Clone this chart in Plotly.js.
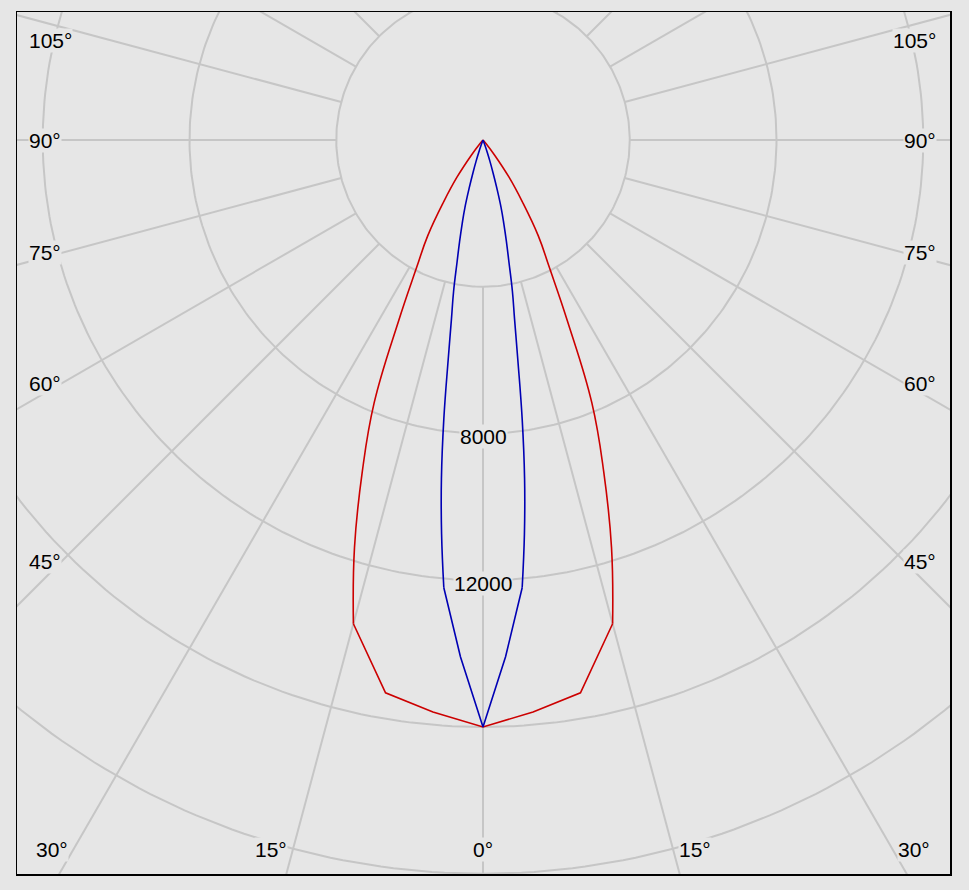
<!DOCTYPE html>
<html>
<head>
<meta charset="utf-8">
<script src="https://cdn.plot.ly/plotly-3.0.1.min.js"></script>
<style>html,body{margin:0;padding:0;background:#e6e6e6;}#chart{width:969px;height:890px;}</style>
</head>
<body>
<div id="chart"></div>
<script>
// Polar angles (degrees from nadir) and luminous intensities (cd)
const redAngles  = [0, 5, 10, 15, 17.5, 20, 22.5, 25, 27.5, 30, 32.5, 35, 37.5, 40, 42.5, 45, 60, 75, 90];
const redValues  = [16000, 15650, 15300, 13650, 11650, 9620, 7750, 5450, 3920, 3010, 1990, 1230, 530, 150, 0, 0, 0, 0, 0];
const blueAngles = [0, 2.5, 5, 6, 7, 8, 9, 10, 11, 12, 13, 14, 15, 16, 17, 18, 19, 20, 22.5, 25, 90];
const blueValues = [16000, 14100, 12250, 10800, 9300, 7670, 6070, 4950, 4200, 3400, 2830, 2340, 1900, 1380, 940, 620, 360, 160, 0, 0, 0];
const radialTicks = [4000, 8000, 12000, 16000, 20000, 24000];
const radialLabels = ['8000', '12000'];
const angleTicks = [-105, -90, -75, -60, -45, -30, -15, 0, 15, 30, 45, 60, 75, 90, 105];
const angleLabels = angleTicks.map(a => Math.abs(a) + '°');
// angle from which each curve is drawn smooth (below it: straight segments)
const redSmoothFrom = 15, blueSmoothFrom = 5;

// layout geometry
const W = 969, H = 890;
const M = {l: 17, r: 19, t: 12, b: 16};
const K = 16000 / 587;            // cd per pixel
const cx = 483 - M.l, cy = 140 - M.t;   // centre within plot area (px)
const pw = W - M.l - M.r, ph = H - M.t - M.b;
const xr = [-cx * K, (pw - cx) * K];
const yr = [-(ph - cy) * K, cy * K];

const rad = d => d * Math.PI / 180;
const px = (a, v, sgn) => sgn * v * Math.sin(rad(a));
const py = (a, v) => -v * Math.cos(rad(a));

function curveTraces(angles, vals, smoothFrom, color, name) {
  const out = [];
  // central straight part, mirrored
  const cxs = [], cys = [];
  for (let i = angles.length - 1; i >= 0; i--) if (angles[i] <= smoothFrom) { cxs.push(px(angles[i], vals[i], -1)); cys.push(py(angles[i], vals[i])); }
  for (let i = 1; i < angles.length; i++) if (angles[i] <= smoothFrom) { cxs.push(px(angles[i], vals[i], 1)); cys.push(py(angles[i], vals[i])); }
  out.push({x: cxs, y: cys, mode: 'lines', line: {color: color, width: 1.6}, name: name, showlegend: false});
  // smooth flanks
  [-1, 1].forEach(sgn => {
    const xs = [], ys = [];
    for (let i = 0; i < angles.length; i++) if (angles[i] >= smoothFrom) { xs.push(px(angles[i], vals[i], sgn)); ys.push(py(angles[i], vals[i])); }
    out.push({x: xs, y: ys, mode: 'lines', line: {color: color, width: 1.6, shape: 'spline', smoothing: 1.2}, name: name, showlegend: false});
  });
  return out;
}

const gridColor = '#c6c6c6';
const traces = [];
// circles
{
  const xs = [], ys = [];
  radialTicks.forEach(r => {
    for (let a = 0; a <= 360; a += 1) { xs.push(r * Math.sin(rad(a))); ys.push(-r * Math.cos(rad(a))); }
    xs.push(null); ys.push(null);
  });
  traces.push({x: xs, y: ys, mode: 'lines', line: {color: gridColor, width: 2}, hoverinfo: 'skip', showlegend: false});
}
// spokes
{
  const xs = [], ys = [], r0 = radialTicks[0], r1 = 60000;
  for (let a = -180; a < 180; a += 15) {
    xs.push(r0 * Math.sin(rad(a)), r1 * Math.sin(rad(a)), null);
    ys.push(-r0 * Math.cos(rad(a)), -r1 * Math.cos(rad(a)), null);
  }
  traces.push({x: xs, y: ys, mode: 'lines', line: {color: gridColor, width: 2}, hoverinfo: 'skip', showlegend: false});
}
curveTraces(redAngles, redValues, redSmoothFrom, '#cc0000', 'C0-C180').forEach(t => traces.push(t));
curveTraces(blueAngles, blueValues, blueSmoothFrom, '#0000b4', 'C90-C270').forEach(t => traces.push(t));

// annotations
const font = {family: 'Liberation Sans, Arial, sans-serif', size: 21, color: '#000'};
const bg = '#e6e6e6';
const ann = [];
angleTicks.forEach((a, i) => {
  const s = Math.sin(rad(a)), c = Math.cos(rad(a));
  if (Math.abs(a) >= 45) {
    const left = a < 0;
    const xi = left ? xr[0] + 45 * K : xr[1] - 46 * K;   // inner edge of label
    let y = xi * (-c / s);
    y = Math.min(y, yr[1] - 28 * K);
    ann.push({x: left ? xr[0] + 11 * K : xr[1] - 13 * K, y: y, text: angleLabels[i], showarrow: false,
      xanchor: left ? 'left' : 'right', yanchor: 'middle', font: font, bgcolor: bg, borderpad: 0});
  } else {
    const y = yr[0] + 25 * K;
    const x = -y * Math.tan(rad(a));
    ann.push({x: x, y: y, text: angleLabels[i], showarrow: false,
      xanchor: a < 0 ? 'right' : (a > 0 ? 'left' : 'center'), xshift: a < 0 ? -5 : (a > 0 ? 5 : 0),
      yanchor: 'middle', font: font, bgcolor: bg, borderpad: 0});
  }
});
radialLabels.forEach(t => {
  ann.push({x: 0, y: -Number(t), text: t, showarrow: false, xanchor: 'center', yanchor: 'middle', yshift: -3,
    font: font, bgcolor: bg, borderpad: 0});
});

const axisCommon = {showgrid: false, zeroline: false, showticklabels: false, ticks: '', showline: true, mirror: true,
  linecolor: '#000', linewidth: 1.5, fixedrange: true};
const layout = {
  width: W, height: H, margin: M,
  paper_bgcolor: bg, plot_bgcolor: bg,
  xaxis: Object.assign({range: xr}, axisCommon),
  yaxis: Object.assign({range: yr}, axisCommon),
  annotations: ann, showlegend: false
};
Plotly.newPlot('chart', traces, layout, {displayModeBar: false, staticPlot: true});
</script>
</body>
</html>
